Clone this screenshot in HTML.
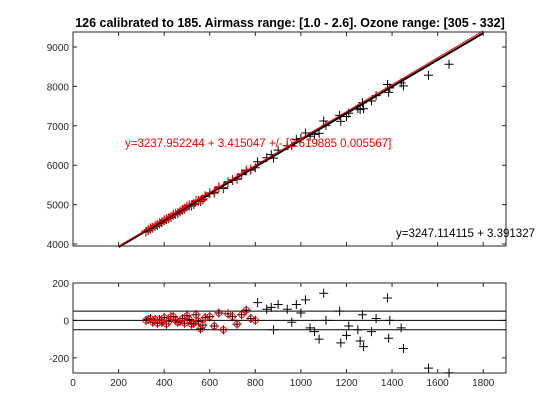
<!DOCTYPE html>
<html><head><meta charset="utf-8"><style>
body{margin:0;background:#fff;width:560px;height:420px;overflow:hidden}
svg{display:block;font-family:"Liberation Sans",Arial,sans-serif}
</style></head><body>
<svg id="chart" width="560" height="420">
<text x="290" y="27" text-anchor="middle" font-size="12.5" font-weight="bold">126 calibrated to 185. Airmass range: [1.0 - 2.6]. Ozone range: [305 - 332]</text>
</svg>
<script>
// data
const hiX = [810,850,870,880,900,940,960,980,1000,1020,1040,1060,1080,1100,1110,1170,1175,1200,1210,1250,1260,1270,1275,1310,1330,1380,1385,1390,1440,1450,1560,1650];
const hiTop = [6089,6189,6267,6181,6384,6495,6492,6655,6678,6816,6734,6782,6809,7122,7011,7265,7112,7236,7320,7436,7410,7584,7431,7629,7767,8047,7849,7961,8090,8014,8282,8562];
const hiRes = [95,60,70,-50,85,60,-10,85,40,110,-40,-60,-100,145,0,50,-120,-80,-30,-50,-110,30,-140,-60,10,120,-95,0,-40,-150,-255,-280];
const loX = [320,330,340,350,360,370,380,390,400,410,420,430,440,450,460,470,480,490,500,510,520,530,540,550,560,570,580,600,620,640,660,680,700,720,740,760,780,800];
const loTop = [4332,4370,4410,4430,4473,4500,4541,4570,4618,4640,4666,4700,4759,4780,4797,4840,4885,4910,4968,4990,4990,5030,5108,5110,5101,5150,5229,5302,5319,5457,5435,5588,5641,5669,5786,5879,5902,5960];
const loRes = [0,5,10,-10,5,-15,5,-10,15,-20,-5,20,20,0,-10,-5,10,-15,25,5,-20,-15,30,-5,-45,-25,15,20,-30,40,-50,35,20,-20,30,55,10,0];
const fitRed = [3237.952244, 3.415047];
const fitBlack = [3247.114115, 3.391327];
const xTicks = [0,200,400,600,800,1000,1200,1400,1600,1800];
const yTopTicks = [4000,5000,6000,7000,8000,9000];
const yBotTicks = [-200,0,200];
const refLines = [-50,0,50];

const NS="http://www.w3.org/2000/svg";
const svg=document.getElementById('chart');
const L=73,R=506,T1=32,B1=246,T2=283,B2=373;
const X=v=>L+(v-0)/(1900)*(R-L);
const Y1=v=>B1-(v-3950)/(9380-3950)*(B1-T1);
const Y2=v=>B2-(v+281)/(200+281)*(B2-T2);
function mk(tag,a){const e=document.createElementNS(NS,tag);for(const k in a)e.setAttribute(k,a[k]);svg.appendChild(e);return e;}
function plus(x,y,c,name){const p=mk('path',{d:`M${x-4.5},${y}h9M${x},${y-4.5}v9`,stroke:c,'stroke-width':1,fill:'none'});

}
function axes(T,B,name){const r=mk('rect',{x:L,y:T,width:R-L,height:B-T,fill:'#fff',stroke:'#262626','stroke-width':1});

}
axes(T1,B1,'top-axes');axes(T2,B2,'residual-axes');
// ticks
xTicks.forEach(t=>{const x=X(t);
mk('path',{d:`M${x},${B1}v-4M${x},${T1}v4M${x},${B2}v-4M${x},${T2}v4`,stroke:'#262626'});
const tx=mk('text',{x:x,y:B2+13,'text-anchor':'middle','font-size':10,fill:'#262626'});tx.textContent=t;

});
yTopTicks.forEach(t=>{const y=Y1(t);mk('path',{d:`M${L},${y}h4M${R},${y}h-4`,stroke:'#262626'});
const tx=mk('text',{x:L-4,y:y+4,'text-anchor':'end','font-size':10,fill:'#262626'});tx.textContent=t;

});
yBotTicks.forEach(t=>{const y=Y2(t);mk('path',{d:`M${L},${y}h4M${R},${y}h-4`,stroke:'#262626'});
const tx=mk('text',{x:L-4,y:y+4,'text-anchor':'end','font-size':10,fill:'#262626'});tx.textContent=t;

});
refLines.forEach(v=>{const l=mk('line',{x1:L,x2:R,y1:Y2(v),y2:Y2(v),stroke:'#000','stroke-width':1});

});
// top scatter
loX.forEach((x,i)=>plus(X(x),Y1(loTop[i])+1,'#000','black-point'));
hiX.forEach((x,i)=>plus(X(x),Y1(hiTop[i]),'#000','black-point'));
loX.forEach((x,i)=>{if(x<=790)plus(X(x),Y1(loTop[i]),'#f00','red-point');});
// fit lines
const fb=mk('line',{x1:X(200),y1:Y1(fitBlack[0]+fitBlack[1]*200),x2:X(1800),y2:Y1(fitBlack[0]+fitBlack[1]*1800),stroke:'#000','stroke-width':2});


const fr=mk('line',{x1:X(200),y1:Y1(fitRed[0]+fitRed[1]*200)-1,x2:X(1800),y2:Y1(fitRed[0]+fitRed[1]*1800)-1,stroke:'#f00','stroke-width':1});


const t1=mk('text',{x:125,y:147,'font-size':11.5,fill:'#f00'});t1.textContent='y=3237.952244 + 3.415047 +/- [2.619885 0.005567]';


const t2=mk('text',{x:396,y:237,'font-size':11.5,fill:'#000'});t2.textContent='y=3247.114115 + 3.391327';


// residuals
loX.forEach((x,i)=>plus(X(x),Y2(loRes[i]),'#000','black-residual'));
hiX.forEach((x,i)=>plus(X(x),Y2(hiRes[i]),'#000','black-residual'));
loX.forEach((x,i)=>{const c=mk('circle',{cx:X(x),cy:Y2(loRes[i]),r:3,fill:'none',stroke:'#f00'});

});
</script>
</body></html>
